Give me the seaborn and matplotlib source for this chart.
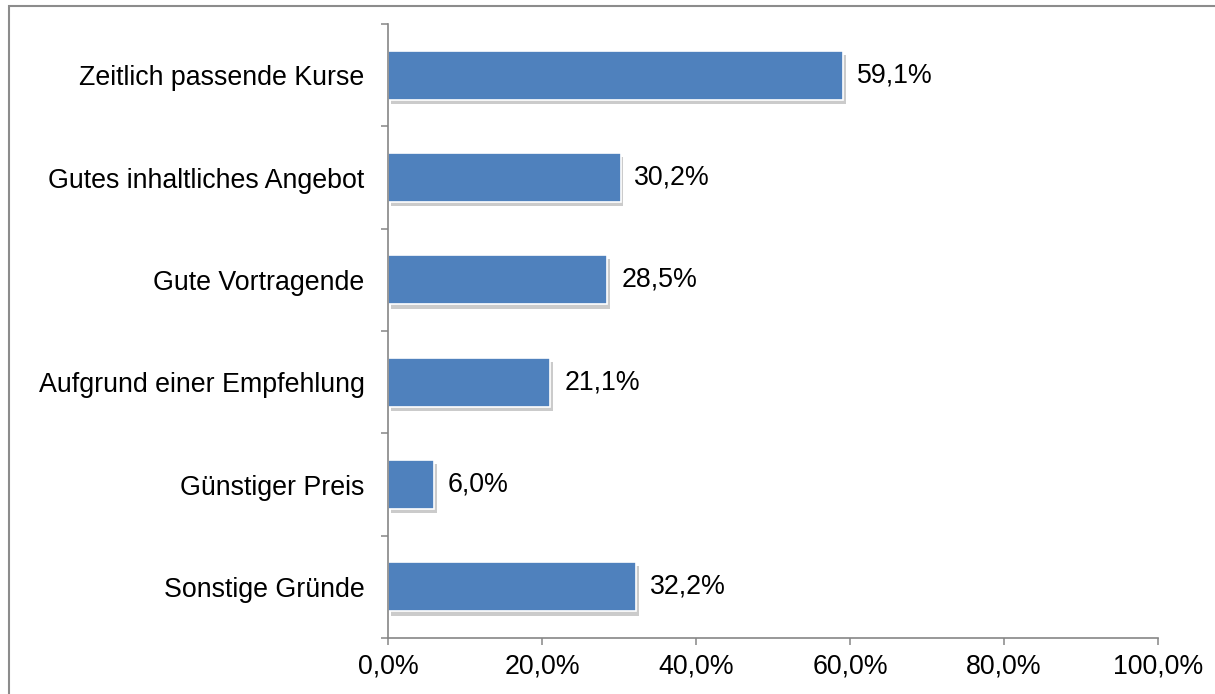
import matplotlib
matplotlib.use("Agg")
import matplotlib.pyplot as plt
import matplotlib.patheffects as pe
from matplotlib.patches import Rectangle
import seaborn as sns
import pandas as pd

categories = [
    "Zeitlich passende Kurse",
    "Gutes inhaltliches Angebot",
    "Gute Vortragende",
    "Aufgrund einer Empfehlung",
    "Günstiger Preis",
    "Sonstige Gründe",
]
values = [59.1, 30.2, 28.5, 21.1, 6.0, 32.2]
xticks = [0, 20, 40, 60, 80, 100]

sns.set_theme(style="white")
plt.rcParams['font.family'] = ['Liberation Sans', 'DejaVu Sans']
plt.rcParams['text.color'] = 'black'
plt.rcParams['xtick.labelcolor'] = 'black'
plt.rcParams['ytick.labelcolor'] = 'black'

df = pd.DataFrame({"cat": categories, "val": values})

fig = plt.figure(figsize=(12.15, 6.94), dpi=100)
ax = fig.add_axes([388/1215, 1-638/694, (1158-388)/1215, (638-24)/694])

sns.barplot(data=df, y="cat", x="val", orient="h", color="#4F81BD",
            width=0.48, saturation=1, ax=ax, edgecolor="white", linewidth=1.2)

for p in ax.patches:
    p.set_path_effects([pe.SimplePatchShadow(offset=(2, -3), shadow_rgbFace="#7f7f7f", alpha=0.4),
                        pe.Normal()])

fs = 19.3
for i, v in enumerate(values):
    ax.text(v + 1.8, i, f"{v:.1f}%".replace(".", ","), va="center", ha="left",
            fontsize=fs, color="black")

ax.set_xlim(0, 100)
ax.set_ylim(5.5, -0.5)
ax.set_xticks(xticks)
ax.set_xticklabels([f"{t:.1f}%".replace(".", ",") for t in xticks], fontsize=fs)
ax.set_yticks(range(len(categories)))
ax.set_yticklabels(categories, fontsize=fs)
ax.set_yticks([i - 0.5 for i in range(len(categories) + 1)], minor=True)
ax.tick_params(axis="y", which="major", length=0, pad=17)
ax.tick_params(axis="y", which="minor", length=5, width=1.1, color="#868686", direction="out", left=True)
ax.tick_params(axis="x", which="major", length=5, width=1.1, color="#868686", direction="out", bottom=True, pad=6)
ax.set_xlabel("")
ax.set_ylabel("")

for s in ["top", "right"]:
    ax.spines[s].set_visible(False)
for s in ["left", "bottom"]:
    ax.spines[s].set_color("#868686")
    ax.spines[s].set_linewidth(1.2)

fig.patches.append(Rectangle((8.5/1215, -0.05), 1.1, 1 - 5.5/694 + 0.05,
                             transform=fig.transFigure, fill=False,
                             edgecolor="#8c8c8c", linewidth=1.5, zorder=0))

fig.savefig("out.png", dpi=100)
